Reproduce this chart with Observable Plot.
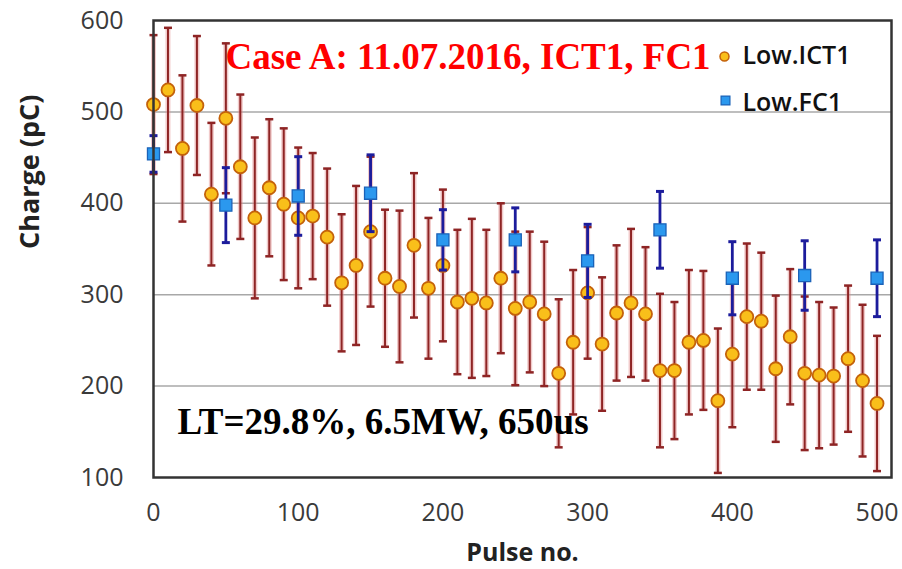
<!DOCTYPE html>
<html><head><meta charset="utf-8">
<script src="https://cdn.jsdelivr.net/npm/d3@7"></script>
<script src="https://cdn.jsdelivr.net/npm/@observablehq/plot@0.6"></script>
<style>body{margin:0;background:#fff}</style>
</head><body><div id="chart"></div>
<script>
const ictPulse = [0,10,20,30,40,50,60,70,80,90,100,110,120,130,140,150,160,170,180,190,200,210,220,230,240,250,260,270,280,290,300,310,320,330,340,350,360,370,380,390,400,410,420,430,440,450,460,470,480,490,500];
const ictCharge = [508,524,460,507,410,493,440,384,417,399,384,386,363,313,332,369,318,309,354,307,332,292,296,291,318,285,292,279,214,248,302,246,280,291,279,217,217,248,250,184,235,276,271,219,254,214,212,211,230,206,181];
const ictErr = [76,68,80,76,78,82,79,88,75,83,77,69,75,75,87,82,75,83,79,77,83,79,87,80,82,84,77,79,81,79,72,73,74,81,73,84,75,79,76,79,80,80,75,80,74,84,80,75,80,83,74];
const fcPulse = [0,50,100,150,200,250,300,350,400,450,500];
const fcCharge = [454,398,408,411,360,360,337,371,318,321,318];
const fcErr = [20,41,43,42,33,35,40,42,40,38,42];
const xTicks = [0,100,200,300,400,500];
const yTicks = [100,200,300,400,500,600];
const gridLines = [200,300,400,500];
const seriesNames = ["Low.ICT1","Low.FC1"];
const titleText = "Case A: 11.07.2016, ICT1, FC1";
const noteText = "LT=29.8%, 6.5MW, 650us";

const ict = ictPulse.map((p,i)=>({pulse:p, charge:ictCharge[i], lo:ictCharge[i]-ictErr[i], hi:ictCharge[i]+ictErr[i]}));
const fc = fcPulse.map((p,i)=>({pulse:p, charge:fcCharge[i], lo:fcCharge[i]-fcErr[i], hi:fcCharge[i]+fcErr[i]}));

const cap = {draw(ctx, size){ const w = Math.sqrt(size/Math.PI); ctx.moveTo(-w,0); ctx.lineTo(w,0); }};
const sans = "'Open Sans', sans-serif";
const serif = "'Liberation Serif', 'Times New Roman', serif";

const ictBar = "#8e2424", ictHalo = "#e08a8a", fcBar = "#1c1c9c";

const chart = Plot.plot({
  width: 902, height: 569,
  marginLeft: 153, marginRight: 11, marginTop: 20, marginBottom: 92,
  style: {fontFamily: sans, background: "#fff"},
  x: {domain: [0, 510], ticks: xTicks},
  y: {domain: [100, 600], ticks: yTicks},
  marks: [
    Plot.ruleY(gridLines, {stroke: "#a8a8a8", strokeWidth: 1.5}),
    Plot.axisX({ticks: xTicks, tickSize: 0, tickPadding: 26, fontSize: 25, fill: "#3a3a3a", label: null}),
    Plot.axisY({ticks: yTicks, tickSize: 0, tickPadding: 30, fontSize: 25, fill: "#3a3a3a", label: null}),
    // ICT1 error bars
    Plot.ruleX(ict, {x: "pulse", y1: "lo", y2: "hi", stroke: ictHalo, strokeWidth: 5, strokeOpacity: 0.45}),
    Plot.ruleX(ict, {x: "pulse", y1: "lo", y2: "hi", stroke: ictBar, strokeWidth: 2}),
    Plot.dot(ict, {x: "pulse", y: "lo", symbol: cap, r: 4, stroke: ictBar, strokeWidth: 2.5, fill: "none"}),
    Plot.dot(ict, {x: "pulse", y: "hi", symbol: cap, r: 4, stroke: ictBar, strokeWidth: 2.5, fill: "none"}),
    Plot.dot(ict, {x: "pulse", y: "charge", r: 6.5, fill: "#f9bf1a", stroke: "#c4620a", strokeWidth: 1.8}),
    // FC1 error bars
    Plot.ruleX(fc, {x: "pulse", y1: "lo", y2: "hi", stroke: fcBar, strokeWidth: 2.8}),
    Plot.dot(fc, {x: "pulse", y: "lo", symbol: cap, r: 4, stroke: fcBar, strokeWidth: 3, fill: "none"}),
    Plot.dot(fc, {x: "pulse", y: "hi", symbol: cap, r: 4, stroke: fcBar, strokeWidth: 3, fill: "none"}),
    Plot.dot(fc, {x: "pulse", y: "charge", symbol: "square", r: 6.8, fill: "#2b98ee", stroke: "#1a62b8", strokeWidth: 1.3}),
    Plot.frame({stroke: "#333", strokeWidth: 2.5}),
    // axis titles
    Plot.text(["Pulse no."], {frameAnchor: "bottom", dy: 75, lineAnchor: "middle", fontSize: 25, fontWeight: "bold", fill: "#222"}),
    Plot.text(["Charge (pC)"], {frameAnchor: "left", dx: -123, rotate: -90, lineAnchor: "middle", fontSize: 27, fontWeight: "bold", fill: "#222"}),
    // title and note
    Plot.text([titleText], {frameAnchor: "top-left", dx: 72, dy: 48, textAnchor: "start", lineAnchor: "bottom", fontFamily: serif, fontWeight: "bold", fontSize: 37, fill: "#ff0000"}),
    Plot.text([noteText], {frameAnchor: "bottom-left", dx: 24, dy: -44, textAnchor: "start", lineAnchor: "bottom", fontFamily: serif, fontWeight: "bold", fontSize: 37, fill: "#000"}),
    // legend
    Plot.dot([seriesNames[0]], {frameAnchor: "top-right", dx: -167, dy: 36, r: 4.5, fill: "#f9bf1a", stroke: "#c4620a", strokeWidth: 1.5}),
    Plot.dot([seriesNames[1]], {frameAnchor: "top-right", dx: -166, dy: 80, symbol: "square", r: 5, fill: "#2b98ee", stroke: "#1a62b8", strokeWidth: 1.2}),
    Plot.text([seriesNames[0]], {frameAnchor: "top-right", dx: -149, dy: 43, textAnchor: "start", lineAnchor: "bottom", fontSize: 25, fontWeight: 600, fill: "#111"}),
    Plot.text([seriesNames[1]], {frameAnchor: "top-right", dx: -149, dy: 90, textAnchor: "start", lineAnchor: "bottom", fontSize: 25, fontWeight: 600, fill: "#111"})
  ]
});
document.getElementById("chart").appendChild(chart);
</script>
</body></html>
